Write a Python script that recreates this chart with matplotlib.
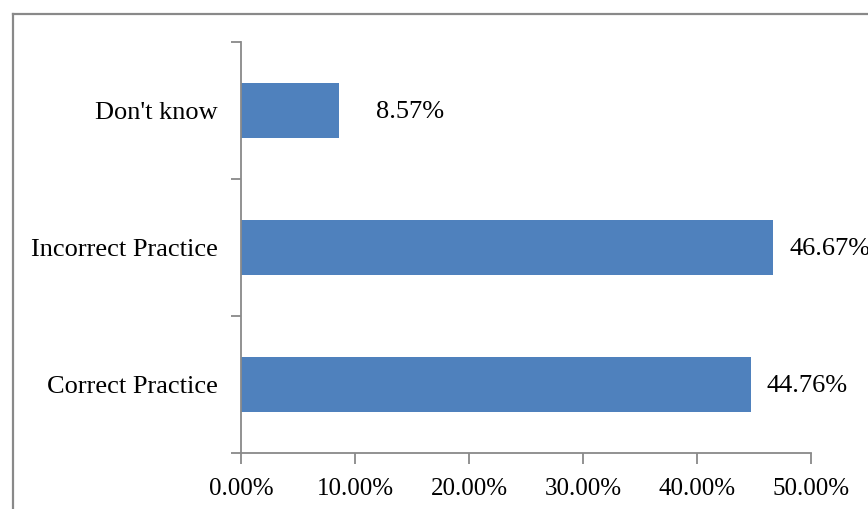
import matplotlib
matplotlib.use("Agg")
import matplotlib.pyplot as plt
from matplotlib.lines import Line2D
from matplotlib.ticker import FixedLocator, FuncFormatter

categories = ["Correct Practice", "Incorrect Practice", "Don't know"]
values = [44.76, 46.67, 8.57]
value_labels = ["44.76%", "46.67%", "8.57%"]
x_ticks = [0, 10, 20, 30, 40, 50]

plt.rcParams["font.family"] = ["Liberation Serif", "DejaVu Serif"]

fig = plt.figure(figsize=(8.68, 5.09), dpi=100)
ax = fig.add_axes([241 / 868, 1 - 453 / 509, 570 / 868, 411 / 509])

bar_color = "#4F81BD"
axis_gray = "#898989"

ypos = list(range(len(categories)))
ax.barh(ypos, values, height=0.4, color=bar_color, zorder=2)

ax.set_xlim(0, 50)
ax.set_ylim(-0.5, len(categories) - 0.5)

ax.set_xticks(x_ticks)
ax.xaxis.set_major_formatter(FuncFormatter(lambda v, p: f"{v:.2f}%"))
ax.set_yticks(ypos)
ax.set_yticklabels(categories)
ax.yaxis.set_minor_locator(FixedLocator([i - 0.5 for i in range(len(categories) + 1)]))

ax.tick_params(axis="y", which="major", length=0, pad=17, labelsize=19)
ax.tick_params(axis="y", which="minor", length=7, width=1.3, color=axis_gray, direction="out")
ax.tick_params(axis="x", which="major", length=8, width=1.3, color=axis_gray,
               direction="out", labelsize=18, pad=10)

for side in ["top", "right"]:
    ax.spines[side].set_visible(False)
for side in ["left", "bottom"]:
    ax.spines[side].set_color(axis_gray)
    ax.spines[side].set_linewidth(1.3)

# value labels to the right of each bar
offsets = [11, 12, 27]
for y, v, lab, off in zip(ypos, values, value_labels, offsets):
    ax.annotate(lab, xy=(v, y), xytext=(off, -1), textcoords="offset points",
                ha="left", va="center", fontsize=19, annotation_clip=False,
                clip_on=False)

# outer chart frame (left and top edges)
fx0 = 12.5 / 868
fy_top = 1 - 13.5 / 509
fig.add_artist(Line2D([fx0, fx0], [0, fy_top], transform=fig.transFigure,
                      color=axis_gray, linewidth=1.6))
fig.add_artist(Line2D([fx0, 1], [fy_top, fy_top], transform=fig.transFigure,
                      color=axis_gray, linewidth=1.6))

fig.savefig("out.png", dpi=100)
